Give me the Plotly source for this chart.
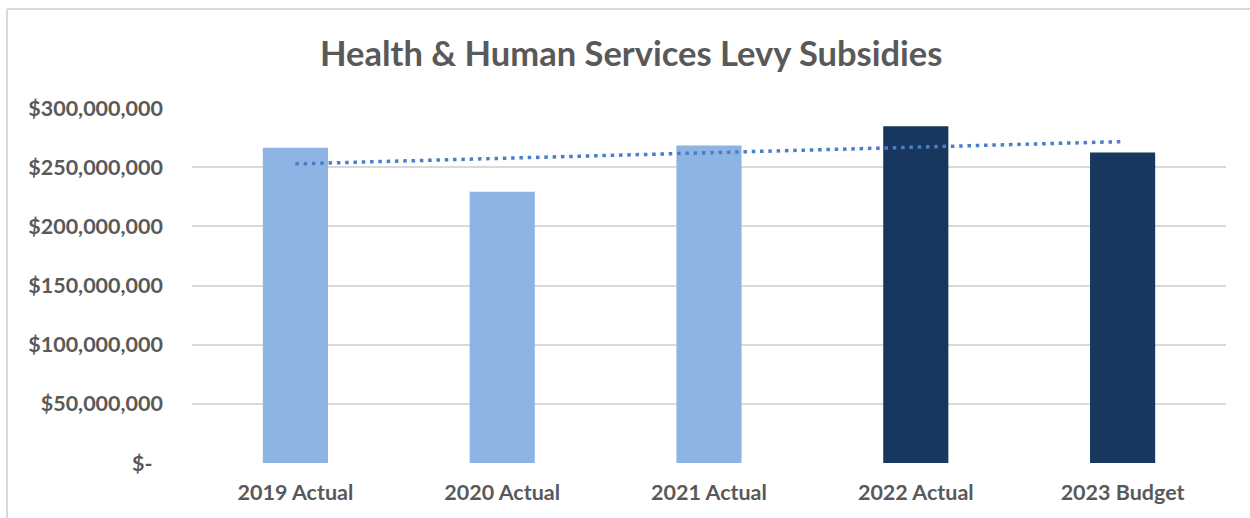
import plotly.graph_objects as go
import numpy as np

categories = ["2019 Actual", "2020 Actual", "2021 Actual", "2022 Actual", "2023 Budget"]
levy_subsidy = [266_500_000, 229_300_000, 268_300_000, 284_500_000, 262_400_000]
bar_colors = ["#8EB4E3", "#8EB4E3", "#8EB4E3", "#17375E", "#17375E"]

tick_vals = [0, 50_000_000, 100_000_000, 150_000_000, 200_000_000, 250_000_000, 300_000_000]
tick_text = ["$-\u00a0\u00a0", "$50,000,000", "$100,000,000", "$150,000,000",
             "$200,000,000", "$250,000,000", "$300,000,000"]

# Linear trendline fitted over the category index
idx = np.arange(len(levy_subsidy))
slope, intercept = np.polyfit(idx, levy_subsidy, 1)
trend = slope * idx + intercept

FONT = "Lato"
GRAY = "#595959"

fig = go.Figure()
fig.add_trace(go.Bar(
    x=categories, y=levy_subsidy, marker=dict(color=bar_colors, line=dict(width=0)),
    width=0.315, showlegend=False,
))
fig.add_trace(go.Scatter(
    x=categories, y=trend, mode="lines",
    line=dict(color="#4A7EC7", width=3.5, dash="3.5px,4.8px"), showlegend=False,
))

fig.update_layout(
    width=1250, height=518,
    margin=dict(l=192, r=24, t=108, b=55),
    paper_bgcolor="white", plot_bgcolor="white",
    title=dict(text="<b>Health & Human Services Levy Subsidies</b>",
               x=0.505, xanchor="center", y=0.895, yanchor="middle",
               font=dict(family=FONT, size=34.5, color=GRAY)),
    font=dict(family=FONT, color=GRAY),
    xaxis=dict(showgrid=False, showline=False, zeroline=False,
               tickfont=dict(family=FONT, size=21.5, color=GRAY), ticklabelstandoff=14,
               tickprefix="<b>", ticksuffix="</b>"),
    yaxis=dict(range=[0, 300_000_000], tickvals=tick_vals, ticktext=[f"<b>{t}</b>" for t in tick_text],
               showgrid=True, gridcolor="#D9D9D9", gridwidth=2, zeroline=False, showline=False,
               tickfont=dict(family=FONT, size=21.5, color=GRAY), ticklabelstandoff=28),
    shapes=[
        dict(type="line", xref="paper", yref="paper", x0=-0.1789, x1=1.1, y0=1.2789, y1=1.2789,
             line=dict(color="#D9D9D9", width=2)),
        dict(type="line", xref="paper", yref="paper", x0=-0.1789, x1=-0.1789, y0=1.2789, y1=-0.3,
             line=dict(color="#D9D9D9", width=2)),
    ],
)

fig.write_html("out.html")
